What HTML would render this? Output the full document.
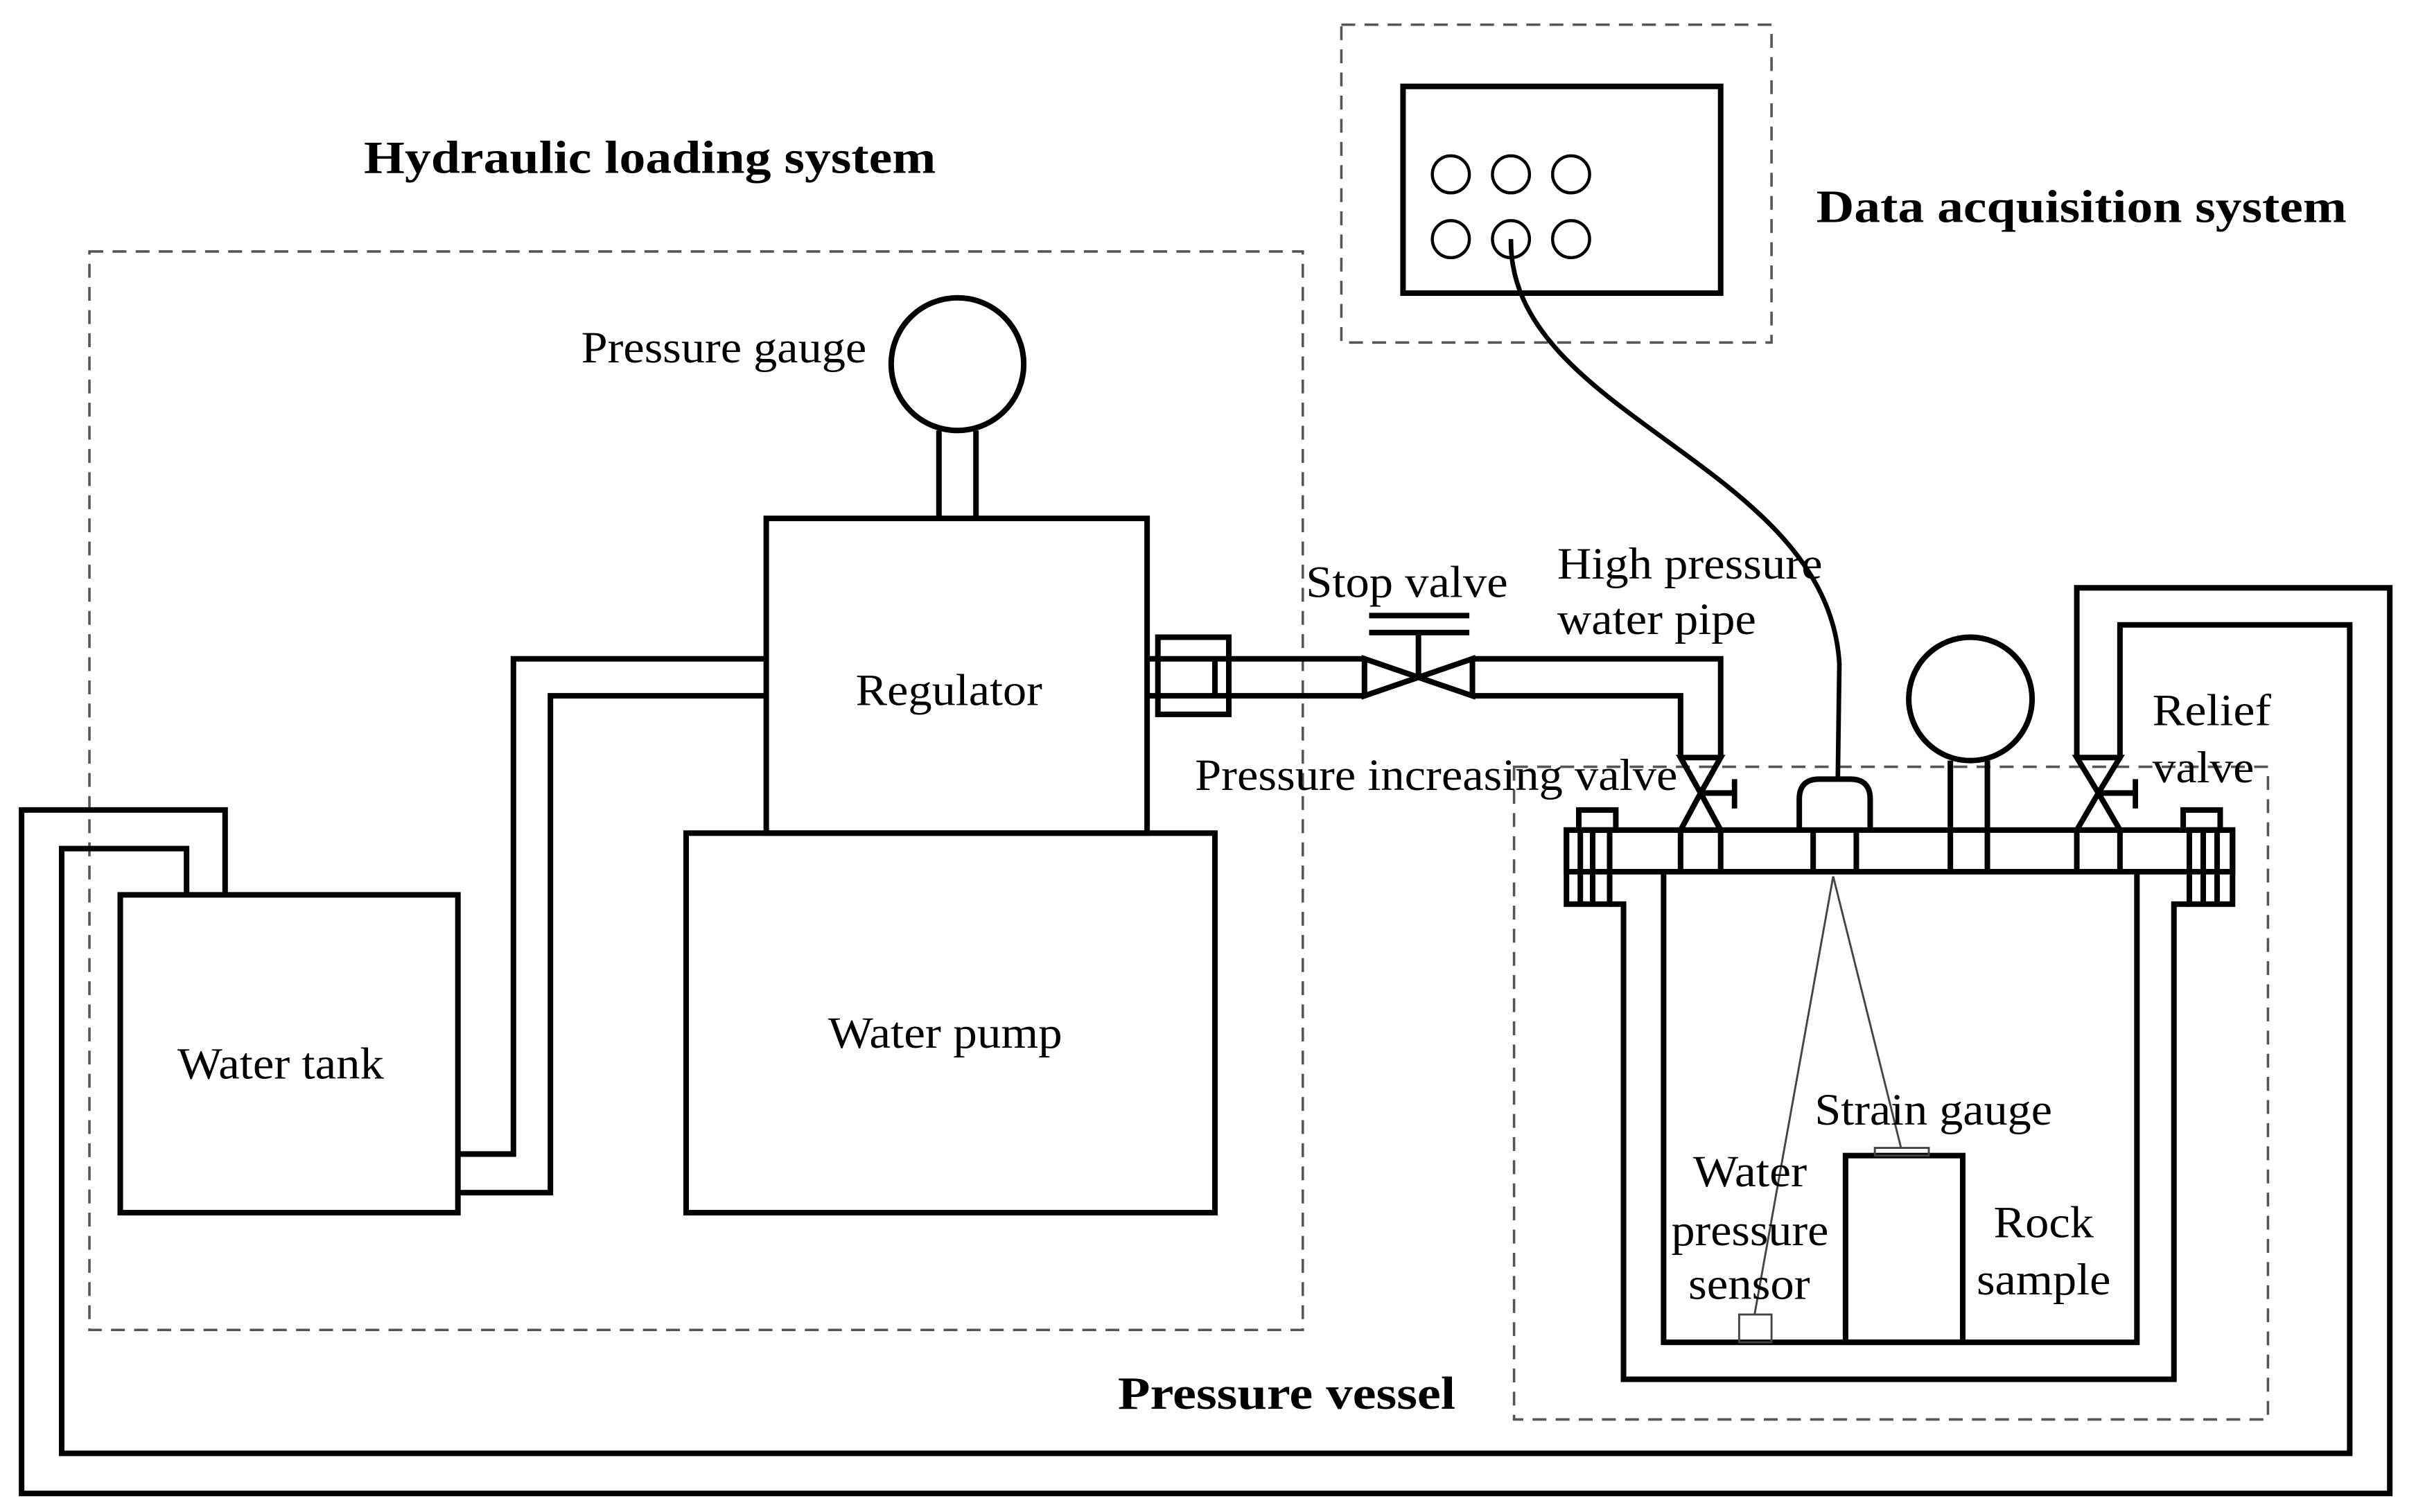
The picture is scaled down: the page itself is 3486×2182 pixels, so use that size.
<!DOCTYPE html>
<html><head><meta charset="utf-8"><style>html,body{margin:0;padding:0;background:#fff}svg{display:block}</style></head>
<body>
<svg width="3486" height="2182" viewBox="0 0 1567 980" preserveAspectRatio="none" xmlns="http://www.w3.org/2000/svg">
<rect width="1567" height="980" fill="#fff"/>
<g fill="none" stroke="#555" stroke-width="1.6" stroke-dasharray="9,6">
<rect x="58" y="163" width="787" height="699"/>
<rect x="870" y="16" width="279" height="206"/>
<rect x="982" y="497" width="489" height="423"/>
</g>
<g fill="none" stroke="#000" stroke-width="3.6" stroke-linejoin="miter">
<rect x="910" y="56" width="206" height="134"/>
<g stroke-width="2">
<circle cx="941" cy="113" r="12"/><circle cx="980" cy="113" r="12"/><circle cx="1019" cy="113" r="12"/>
<circle cx="941" cy="155" r="12"/><circle cx="980" cy="155" r="12"/><circle cx="1019" cy="155" r="12"/>
</g>
<path d="M980,155 C978,270 1185,300 1193,430 L1192,505" stroke-width="3"/>
<circle cx="621" cy="236" r="43"/>
<line x1="609" y1="279" x2="609" y2="336"/><line x1="633" y1="279" x2="633" y2="336"/>
<rect x="497" y="336" width="247" height="204"/>
<rect x="445" y="540" width="343" height="246"/>
<rect x="78" y="580" width="219" height="206"/>
<polyline points="297,748 333,748 333,427 497,427"/>
<polyline points="297,773 357,773 357,451 497,451"/>
<rect x="751" y="413" width="46" height="50"/>
<line x1="788" y1="427" x2="788" y2="451"/>
<line x1="744" y1="427" x2="885" y2="427"/><line x1="744" y1="451" x2="885" y2="451"/>
<polygon points="885,427 920,439 885,451"/><polygon points="955,427 920,439 955,451"/>
<line x1="920" y1="439" x2="920" y2="410"/>
<line x1="888" y1="410" x2="953" y2="410"/><line x1="888" y1="399" x2="953" y2="399"/>
<polyline points="955,427 1116,427 1116,491"/>
<polyline points="955,451 1090,451 1090,491"/>
<polygon points="1090,491 1103,514 1116,491"/><polygon points="1090,538 1103,514 1116,538"/>
<line x1="1103" y1="514" x2="1124" y2="514"/><line x1="1125" y1="505" x2="1125" y2="524" stroke-width="3.5"/>
<polyline points="1347,491 1347,405 1347,381 1550,381 1550,968 14,968 14,525 146,525 146,580"/>
<polyline points="1375,491 1375,405 1524,405 1524,942 40,942 40,550 121,550 121,580"/>
<polygon points="1347,491 1361,514 1375,491"/><polygon points="1347,538 1361,514 1375,538"/>
<line x1="1361" y1="514" x2="1384" y2="514"/><line x1="1385" y1="505" x2="1385" y2="524" stroke-width="3.5"/>
<rect x="1016" y="538" width="432" height="27"/>
<rect x="1016" y="538" width="28" height="48"/><line x1="1025" y1="538" x2="1025" y2="586"/><line x1="1033" y1="538" x2="1033" y2="586"/>
<rect x="1420" y="538" width="28" height="48"/><line x1="1429" y1="538" x2="1429" y2="586"/><line x1="1438" y1="538" x2="1438" y2="586"/>
<rect x="1024" y="525" width="24" height="13"/><rect x="1416" y="525" width="24" height="13"/>
<polyline points="1044,586 1053,586 1053,894 1410,894 1410,586 1420,586"/>
<polyline points="1079,565 1079,870 1386,870 1386,565"/>
<line x1="1090" y1="538" x2="1090" y2="565"/><line x1="1116" y1="538" x2="1116" y2="565"/>
<line x1="1347" y1="538" x2="1347" y2="565"/><line x1="1375" y1="538" x2="1375" y2="565"/>
<line x1="1176" y1="538" x2="1176" y2="565"/><line x1="1204" y1="538" x2="1204" y2="565"/>
<path d="M1167,538 L1167,518 Q1167,505 1180,505 L1200,505 Q1213,505 1213,518 L1213,538"/>
<circle cx="1278" cy="453" r="40"/>
<line x1="1265" y1="493" x2="1265" y2="565"/><line x1="1289" y1="493" x2="1289" y2="565"/>
<rect x="1197" y="749" width="76" height="121"/>
</g>
<g fill="none" stroke="#444" stroke-width="1.3">
<rect x="1216" y="744" width="35" height="5"/>
<rect x="1128" y="852" width="21" height="18"/>
<line x1="1189" y1="568" x2="1138" y2="852"/>
<line x1="1189" y1="568" x2="1233" y2="744"/>
</g>
<g font-family="Liberation Serif, serif" font-size="29" fill="#000" lengthAdjust="spacingAndGlyphs">
<text x="377" y="235" textLength="185" lengthAdjust="spacingAndGlyphs">Pressure gauge</text>
<text x="555" y="457" textLength="121" lengthAdjust="spacingAndGlyphs">Regulator</text>
<text x="537" y="679" textLength="152" lengthAdjust="spacingAndGlyphs">Water pump</text>
<text x="115" y="699" textLength="134" lengthAdjust="spacingAndGlyphs">Water tank</text>
<text x="847" y="387" textLength="131" lengthAdjust="spacingAndGlyphs">Stop valve</text>
<text x="1010" y="375" textLength="172" lengthAdjust="spacingAndGlyphs">High pressure</text>
<text x="1010" y="411" textLength="129" lengthAdjust="spacingAndGlyphs">water pipe</text>
<text x="775" y="512" textLength="313" lengthAdjust="spacingAndGlyphs">Pressure increasing valve</text>
<text x="1396" y="470" textLength="77" lengthAdjust="spacingAndGlyphs">Relief</text>
<text x="1396" y="507" textLength="66" lengthAdjust="spacingAndGlyphs">valve</text>
<text x="1177" y="729" textLength="154" lengthAdjust="spacingAndGlyphs">Strain gauge</text>
<text x="1098" y="769" textLength="74" lengthAdjust="spacingAndGlyphs">Water</text>
<text x="1084" y="807" textLength="102" lengthAdjust="spacingAndGlyphs">pressure</text>
<text x="1095" y="842" textLength="79" lengthAdjust="spacingAndGlyphs">sensor</text>
<text x="1293" y="802" textLength="65" lengthAdjust="spacingAndGlyphs">Rock</text>
<text x="1282" y="839" textLength="87" lengthAdjust="spacingAndGlyphs">sample</text>
</g>
<g font-family="Liberation Serif, serif" font-size="30" font-weight="bold" fill="#000">
<text x="236" y="112" textLength="371" lengthAdjust="spacingAndGlyphs">Hydraulic loading system</text>
<text x="1178" y="144" textLength="344" lengthAdjust="spacingAndGlyphs">Data acquisition system</text>
<text x="725" y="913" textLength="219" lengthAdjust="spacingAndGlyphs">Pressure vessel</text>
</g>
</svg>
</body></html>
